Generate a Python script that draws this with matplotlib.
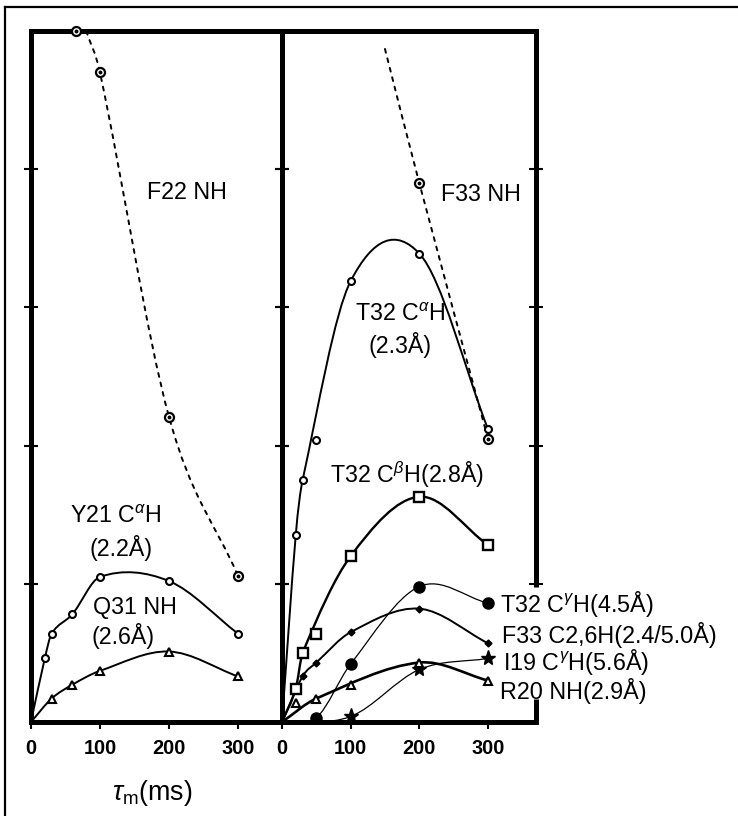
import numpy as np
import matplotlib
matplotlib.use("Agg")
import matplotlib.pyplot as plt
from matplotlib.path import Path
from matplotlib.patches import PathPatch
from matplotlib.lines import Line2D

plt.rcParams['font.family'] = ['Liberation Sans', 'DejaVu Sans']
plt.rcParams['mathtext.fontset'] = 'custom'
plt.rcParams['mathtext.rm'] = 'Liberation Sans'
plt.rcParams['mathtext.it'] = 'Liberation Sans:italic'
plt.rcParams['mathtext.bf'] = 'Liberation Sans:bold'

# ---------------- data (mixing time in ms, NOE intensity in arbitrary units) ----------------
x_ticks = [0, 100, 200, 300]
x_ticklabels = ["0", "100", "200", "300"]
y_ticks = [1, 2, 3, 4]

# left panel
f22_t = [65, 100, 200, 300]
f22_v = [5.0, 4.70, 2.21, 1.06]
f22_line_t = [80, 100, 200, 300]
f22_line_v = [5.0, 4.70, 2.21, 1.06]

y21_t = [0, 20, 30, 60, 100, 200, 300]
y21_v = [0, 0.46, 0.64, 0.78, 1.05, 1.02, 0.64]

q31_t = [0, 30, 60, 100, 200, 300]
q31_v = [0, 0.17, 0.27, 0.37, 0.51, 0.33]

# right panel
f33nh_t = [200, 300]
f33nh_v = [3.90, 2.05]
f33nh_line_t = [150, 200, 300]
f33nh_line_v = [4.87, 3.90, 2.05]

t32a_t = [0, 20, 30, 50, 100, 200, 300]
t32a_v = [0, 1.35, 1.75, 2.04, 3.19, 3.39, 2.12]
t32a_on = [1, 1, 1, 0, 1, 1, 1]

t32b_t = [0, 20, 30, 50, 100, 200, 300]
t32b_v = [0, 0.24, 0.50, 0.64, 1.20, 1.63, 1.28]
t32b_on = [1, 1, 1, 0, 1, 1, 1]

t32g_t = [0, 50, 100, 200, 300]
t32g_v = [0, 0.03, 0.42, 0.98, 0.86]

f33c_t = [0, 30, 50, 100, 200, 300]
f33c_v = [0, 0.33, 0.43, 0.65, 0.82, 0.57]

i19_t = [0, 100, 200, 300]
i19_v = [0, 0.04, 0.38, 0.46]

r20_t = [0, 20, 50, 100, 200, 300]
r20_v = [0, 0.14, 0.17, 0.27, 0.43, 0.30]
r20_on = [1, 0, 1, 0, 1, 1]

# ---------------- figure ----------------
W, H = 738, 816
fig = plt.figure(figsize=(W / 100, H / 100), dpi=100)


def px_axes(x0, x1, y0, y1):
    return fig.add_axes([x0 / W, 1 - y1 / H, (x1 - x0) / W, (y1 - y0) / H])


axL = px_axes(31, 282, 31, 722)
axR = px_axes(282, 536, 31, 722)

tick_texts = []
for ax, xmax in ((axL, 364), (axR, 370)):
    ax.set_xlim(0, xmax)
    ax.set_ylim(0, 5)
    for s in ax.spines.values():
        s.set_linewidth(3.6)
    ax.set_xticks(x_ticks)
    ax.set_yticks(y_ticks)
    ax.tick_params(axis='y', left=True, right=True, direction='inout', length=10,
                   width=1.5, labelleft=False)
    ax.tick_params(axis='x', direction='out', length=5, width=1.5, labelbottom=False)
    ax.patch.set_alpha(0)
    # tick numbers as text placed at the tick positions, 26 px below the axis
    for pos, lab in zip(x_ticks, x_ticklabels):
        tick_texts.append(ax.text(pos, -26 / 691, lab, transform=ax.get_xaxis_transform(),
                                  fontsize=14.3, fontweight='bold', ha='center', va='center',
                                  clip_on=False))

# right spine of the right panel is interrupted by the labels
axR.spines['right'].set_visible(False)
for lo, hi in ((0.98, 5.0), (0.0, 0.17)):
    axR.plot([1, 1], [lo, hi], transform=axR.get_yaxis_transform(), color='black',
             lw=3.6, clip_on=False, solid_capstyle='butt', zorder=2.5)


def smooth(ax, xs, ys, **kw):
    xs = np.asarray(xs, float)
    ys = np.asarray(ys, float)
    n = len(xs)
    m = np.empty(n)
    if n > 2:
        m[1:-1] = (ys[2:] - ys[:-2]) / (xs[2:] - xs[:-2])
    m[0] = (ys[1] - ys[0]) / (xs[1] - xs[0])
    m[-1] = (ys[-1] - ys[-2]) / (xs[-1] - xs[-2])
    verts = [(xs[0], ys[0])]
    codes = [Path.MOVETO]
    for i in range(n - 1):
        h = xs[i + 1] - xs[i]
        verts += [(xs[i] + h / 3, ys[i] + m[i] * h / 3),
                  (xs[i + 1] - h / 3, ys[i + 1] - m[i + 1] * h / 3),
                  (xs[i + 1], ys[i + 1])]
        codes += [Path.CURVE4] * 3
    ax.add_patch(PathPatch(Path(verts, codes), fill=False, edgecolor='black',
                           capstyle='round', **kw))


def sel(t, v, on):
    return [a for a, o in zip(t, on) if o], [b for b, o in zip(v, on) if o]


def markers(ax, t, v, skip_origin=True, **kw):
    t = list(t); v = list(v)
    if skip_origin and t[0] == 0:
        t, v = t[1:], v[1:]
    ax.plot(t, v, linestyle='none', color='black', clip_on=False, zorder=5, **kw)


def dot_circles(ax, t, v):
    ax.plot(t, v, 'o', ms=6.5, mfc='white', mec='black', mew=1.6, clip_on=False, zorder=5)
    ax.plot(t, v, 'o', ms=1.8, color='black', clip_on=False, zorder=6)


dotted = dict(linestyle=(0, (2.0, 3.0)), lw=1.4)

# ---- left panel ----
smooth(axL, f22_line_t, f22_line_v, **dotted)
dot_circles(axL, f22_t, f22_v)

smooth(axL, y21_t, y21_v, lw=1.4)
markers(axL, y21_t, y21_v, marker='o', ms=5, mfc='white', mec='black', mew=1.5)

smooth(axL, q31_t, q31_v, lw=1.4)
markers(axL, q31_t, q31_v, marker='^', ms=5.5, mfc='white', mec='black', mew=1.5)

# ---- right panel ----
smooth(axR, f33nh_line_t, f33nh_line_v, **dotted)
dot_circles(axR, f33nh_t, f33nh_v)

smooth(axR, *sel(t32a_t, t32a_v, t32a_on), lw=1.4)
markers(axR, t32a_t, t32a_v, marker='o', ms=5, mfc='white', mec='black', mew=1.5)

smooth(axR, *sel(t32b_t, t32b_v, t32b_on), lw=1.7)
markers(axR, t32b_t, t32b_v, marker='s', ms=6.5, mfc='white', mec='black', mew=1.7)

smooth(axR, t32g_t, t32g_v, lw=0.9)
markers(axR, t32g_t, t32g_v, marker='o', ms=8, mfc='black', mec='black')

smooth(axR, f33c_t, f33c_v, lw=1.4)
markers(axR, f33c_t, f33c_v, marker='D', ms=3.5, mfc='black', mec='black')

smooth(axR, i19_t, i19_v, lw=0.9)
markers(axR, i19_t, i19_v, marker='*', ms=11, mfc='black', mec='black')

smooth(axR, *sel(r20_t, r20_v, r20_on), lw=1.9)
markers(axR, r20_t, r20_v, marker='^', ms=5.5, mfc='white', mec='black', mew=1.5)

# ---------------- labels ----------------
fs = 16.5
inner = []
inner.append(axL.text(226, 3.83, "F22 NH", fontsize=fs, ha='center', va='center'))
inner.append(axL.text(123, 1.49, "Y21 C$^{\\alpha}$H", fontsize=fs, ha='center', va='center'))
inner.append(axL.text(130, 1.26, "(2.2Å)", fontsize=fs, ha='center', va='center'))
inner.append(axL.text(151, 0.83, "Q31 NH", fontsize=fs, ha='center', va='center'))
inner.append(axL.text(133, 0.62, "(2.6Å)", fontsize=fs, ha='center', va='center'))
inner.append(axR.text(290, 3.82, "F33 NH", fontsize=fs, ha='center', va='center'))
inner.append(axR.text(172, 2.95, "T32 C$^{\\alpha}$H", fontsize=fs, ha='center', va='center'))
inner.append(axR.text(172, 2.73, "(2.3Å)", fontsize=fs, ha='center', va='center'))
inner.append(axR.text(182, 1.79, "T32 C$^{\\beta}$H(2.8Å)", fontsize=fs, ha='center', va='center'))

fs2 = 16
side = []
side.append(axR.text(317, 0.855, "T32 C$^{\\gamma}$H(4.5Å)", fontsize=fs2, ha='left', va='center'))
side.append(axR.text(320, 0.63, "F33 C2,6H(2.4/5.0Å)", fontsize=fs2, ha='left', va='center'))
side.append(axR.text(322, 0.435, "I19 C$^{\\gamma}$H(5.6Å)", fontsize=fs2, ha='left', va='center'))
side.append(axR.text(317, 0.225, "R20 NH(2.9Å)", fontsize=fs2, ha='left', va='center'))

xlab = fig.text(152 / W, 1 - 793 / H, "$\\tau_{\\rm m}$(ms)", fontsize=18, ha='center', va='center')

# page frame (top and left edges)
fig.add_artist(Line2D([5 / W, 1], [1 - 7 / H, 1 - 7 / H], color='black', lw=1.6))
fig.add_artist(Line2D([5 / W, 5 / W], [0, 1 - 7 / H], color='black', lw=1.6))

# --- scale font sizes so that rendered text widths match the reference's pixel widths ---
fig.canvas.draw()
r = fig.canvas.get_renderer()


def fit(texts, target_px, ref_text, cap=None):
    w = ref_text.get_window_extent(r).width
    k = target_px / w
    for t in texts:
        new = t.get_fontsize() * k
        if cap is not None:
            new = min(new, cap)
        t.set_fontsize(new)


fit(inner, 80, inner[0])
fit(side, 218, side[1], cap=16.8)
fit([xlab], 81, xlab)

fig.savefig("out.png", dpi=100)
